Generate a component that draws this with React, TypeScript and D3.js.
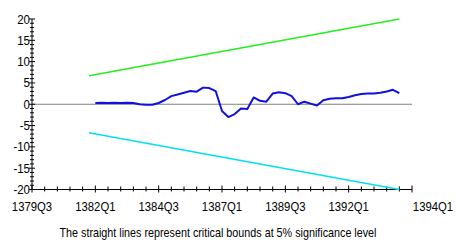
import React, { useEffect, useRef } from 'react';
import * as d3 from 'd3';

// quarter index 0 = 1379Q3
const cusumStart = 10;
const cusumValues = [
  0.3, 0.35, 0.3, 0.35, 0.3, 0.35, 0.3, 0.0, -0.1, -0.1,
  0.3, 1.0, 1.9, 2.3, 2.7, 3.1, 2.95, 3.9, 3.8, 3.1,
  -1.6, -3.0, -2.3, -1.0, -1.1, 1.6, 0.8, 0.6, 2.5, 2.8,
  2.6, 1.9, 0.0, 0.6, 0.15, -0.3, 0.95, 1.3, 1.4, 1.4,
  1.7, 2.1, 2.4, 2.5, 2.55, 2.7, 3.0, 3.4, 2.6,
];
const boundStart = 9;
const boundEnd = 58;
const boundStartValue = 6.67;
const boundEndValue = 20;

const xTickLabels = ['1379Q3', '1382Q1', '1384Q3', '1387Q1', '1389Q3', '1392Q1', '1394Q1'];
const yTickValues = [20, 15, 10, 5, 0, -5, -10, -15, -20];
const footnote = 'The straight lines represent critical bounds at 5% significance level';

const FONT = '"Liberation Sans Narrow", "Arial Narrow", "Liberation Sans", sans-serif';

export default function App() {
  const svgRef = useRef<SVGSVGElement>(null);

  useEffect(() => {
    if (!svgRef.current) return;
    const root = d3.select(svgRef.current);
    root.selectAll('*').remove();

    const x = d3.scaleLinear().domain([0, 60]).range([32, 412]);
    const y = d3.scaleLinear().domain([-20, 20]).range([189.5, 19]);

    const g = root.append('g');

    // zero line
    g.append('line')
      .attr('x1', x(0)).attr('x2', x(60))
      .attr('y1', y(0)).attr('y2', y(0))
      .attr('stroke', '#808080').attr('stroke-width', 1.2);

    // y axis
    g.append('line')
      .attr('x1', x(0)).attr('x2', x(0))
      .attr('y1', y(20)).attr('y2', y(-20))
      .attr('stroke', '#000').attr('stroke-width', 1);
    d3.range(-20, 21, 1).forEach(v => {
      const major = v % 5 === 0;
      g.append('line')
        .attr('x1', x(0) - (major ? 3 : 2)).attr('x2', x(0) + (major ? 3 : 2))
        .attr('y1', y(v)).attr('y2', y(v))
        .attr('stroke', '#000').attr('stroke-width', 1);
    });
    g.selectAll('.ylab')
      .data(yTickValues)
      .enter()
      .append('text')
      .attr('transform', d => `translate(${x(0) - 2},${y(d) + 4.5}) scale(0.85,1)`)
      .attr('text-anchor', 'end')
      .attr('font-family', FONT)
      .attr('font-size', 13.5)
      .attr('fill', '#000')
      .text(d => d);

    // x axis
    const axisY = y(-20);
    g.append('line')
      .attr('x1', x(0)).attr('x2', x(60))
      .attr('y1', axisY).attr('y2', axisY)
      .attr('stroke', '#000').attr('stroke-width', 1);
    d3.range(0, 61, 2).forEach(q => {
      const major = q % 10 === 0;
      g.append('line')
        .attr('x1', x(q)).attr('x2', x(q))
        .attr('y1', axisY - (major ? 4 : 3)).attr('y2', axisY + (major ? 3 : 2))
        .attr('stroke', '#000').attr('stroke-width', 1);
    });
    g.selectAll('.xlab')
      .data(xTickLabels)
      .enter()
      .append('text')
      .attr('transform', (d, i) =>
        `translate(${x(i * 10) + (i === xTickLabels.length - 1 ? 21 : 0)},211) scale(0.84,1)`)
      .attr('text-anchor', 'middle')
      .attr('font-family', FONT)
      .attr('font-size', 13.5)
      .attr('fill', '#000')
      .text(d => d);

    // critical bounds
    const upper: [number, number][] = [[boundStart, boundStartValue], [boundEnd, boundEndValue]];
    const lower: [number, number][] = [[boundStart, -boundStartValue], [boundEnd, -boundEndValue]];
    const line = d3.line<[number, number]>().x(d => x(d[0])).y(d => y(d[1]));
    g.append('path').attr('d', line(upper)).attr('fill', 'none')
      .attr('stroke', '#22ee22').attr('stroke-width', 1.5);
    g.append('path').attr('d', line(lower)).attr('fill', 'none')
      .attr('stroke', '#00e0f0').attr('stroke-width', 1.5);

    // CUSUM
    const cusum: [number, number][] = cusumValues.map((v, i) => [cusumStart + i, v]);
    g.append('path').attr('d', line(cusum)).attr('fill', 'none')
      .attr('stroke', '#1010e0').attr('stroke-width', 2)
      .attr('stroke-linejoin', 'round');

    // footnote
    g.append('text')
      .attr('x', 218)
      .attr('y', 237)
      .attr('text-anchor', 'middle')
      .attr('font-family', FONT)
      .attr('font-size', 13.5)
      .attr('fill', '#000')
      .attr('textLength', 317)
      .attr('lengthAdjust', 'spacingAndGlyphs')
      .text(footnote);
  }, []);

  return (
    <div style={{ position: 'absolute', left: 0, top: 0 }}>
      <svg ref={svgRef} width={456} height={240} style={{ display: 'block', background: '#fff' }}></svg>
    </div>
  );
}
